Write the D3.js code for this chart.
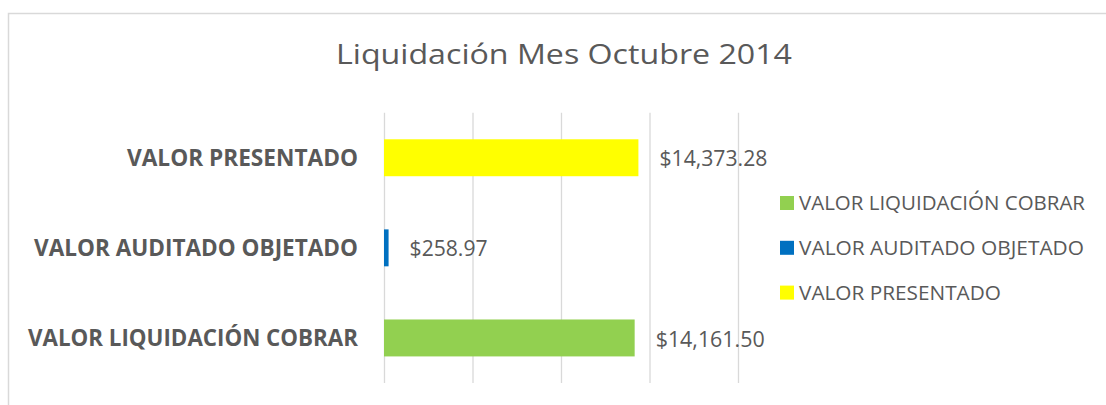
<!DOCTYPE html>
<html>
<head>
<meta charset="utf-8">
<script src="https://cdn.jsdelivr.net/npm/d3@7/dist/d3.min.js"></script>
<style>
  html, body { margin: 0; padding: 0; background: #fff; }
  svg { display: block; }
  text { font-family: "Open Sans", "Noto Sans", "Liberation Sans", sans-serif; fill: #595959; }
</style>
</head>
<body>
<svg id="chart" width="1106" height="405"></svg>
<script>
// ---- data ----
const title = "Liquidación Mes Octubre 2014";
const categories = ["VALOR LIQUIDACIÓN COBRAR", "VALOR AUDITADO OBJETADO", "VALOR PRESENTADO"];
const values = [14161.50, 258.97, 14373.28];
const seriesColors = ["#92D050", "#0070C0", "#FFFF00"];
const tickValues = [0, 5000, 10000, 15000, 20000];
const axisMax = 20000;

// ---- layout ----
const svg = d3.select("#chart");
const W = 1106, H = 405;
const plot = { left: 384, right: 738, top: 112.7, bottom: 383 };

// chart area border
svg.append("rect")
  .attr("x", 8.5).attr("y", 13.5)
  .attr("width", W + 20).attr("height", H + 20)
  .attr("fill", "none").attr("stroke", "#d9d9d9").attr("stroke-width", 1.5);

// title
svg.append("text")
  .attr("x", 564).attr("y", 64)
  .attr("text-anchor", "middle")
  .attr("font-size", 27.5)
  .attr("font-weight", 400)
  .attr("textLength", 456)
  .attr("lengthAdjust", "spacingAndGlyphs")
  .text(title);

const x = d3.scaleLinear().domain([0, axisMax]).range([plot.left, plot.right]);
const y = d3.scaleBand()
  .domain(categories.slice().reverse())
  .range([plot.top, plot.bottom])
  .paddingInner(0.59)
  .paddingOuter(0.295);

// gridlines via axis
const grid = svg.append("g")
  .attr("transform", `translate(0,${plot.bottom})`)
  .call(d3.axisBottom(x).tickValues(tickValues).tickSize(-(plot.bottom - plot.top)).tickFormat(""));
grid.select(".domain").remove();
grid.selectAll(".tick line").attr("stroke", "#d9d9d9").attr("stroke-width", 1.3);

// bars
const data = categories.map((c, i) => ({ cat: c, value: values[i], color: seriesColors[i] }));
svg.append("g").selectAll("rect")
  .data(data).join("rect")
  .attr("x", x(0))
  .attr("y", d => y(d.cat))
  .attr("width", d => x(d.value) - x(0))
  .attr("height", y.bandwidth())
  .attr("fill", d => d.color);

// value labels
const fmt = d3.format("$,.2f");
const valueWidths = { "$14,161.50": 109, "$258.97": 78, "$14,373.28": 108 };
svg.append("g").selectAll("text")
  .data(data).join("text")
  .attr("x", d => x(d.value) + 21)
  .attr("y", d => y(d.cat) + y.bandwidth() / 2 + 8.6)
  .attr("font-size", 22)
  .attr("textLength", d => valueWidths[fmt(d.value)])
  .attr("lengthAdjust", "spacingAndGlyphs")
  .text(d => fmt(d.value));

// category labels
const catWidths = { "VALOR LIQUIDACIÓN COBRAR": 330, "VALOR AUDITADO OBJETADO": 324, "VALOR PRESENTADO": 231 };
svg.append("g").selectAll("text")
  .data(categories).join("text")
  .attr("x", 358)
  .attr("y", d => y(d) + y.bandwidth() / 2 + 8.3)
  .attr("text-anchor", "end")
  .attr("font-size", 23)
  .attr("font-weight", 700)
  .attr("textLength", d => catWidths[d])
  .attr("lengthAdjust", "spacingAndGlyphs")
  .text(d => d);

// legend
const legWidths = [286, 285, 202];
const legend = svg.append("g").selectAll("g")
  .data(data).join("g")
  .attr("transform", (d, i) => `translate(780,${210 + i * 44.8})`);
legend.append("rect")
  .attr("x", 0).attr("y", -14)
  .attr("width", 14).attr("height", 14)
  .attr("fill", d => d.color);
legend.append("text")
  .attr("x", 19).attr("y", 0)
  .attr("font-size", 19.5)
  .attr("textLength", (d, i) => legWidths[i])
  .attr("lengthAdjust", "spacingAndGlyphs")
  .text(d => d.cat);
</script>
</body>
</html>
